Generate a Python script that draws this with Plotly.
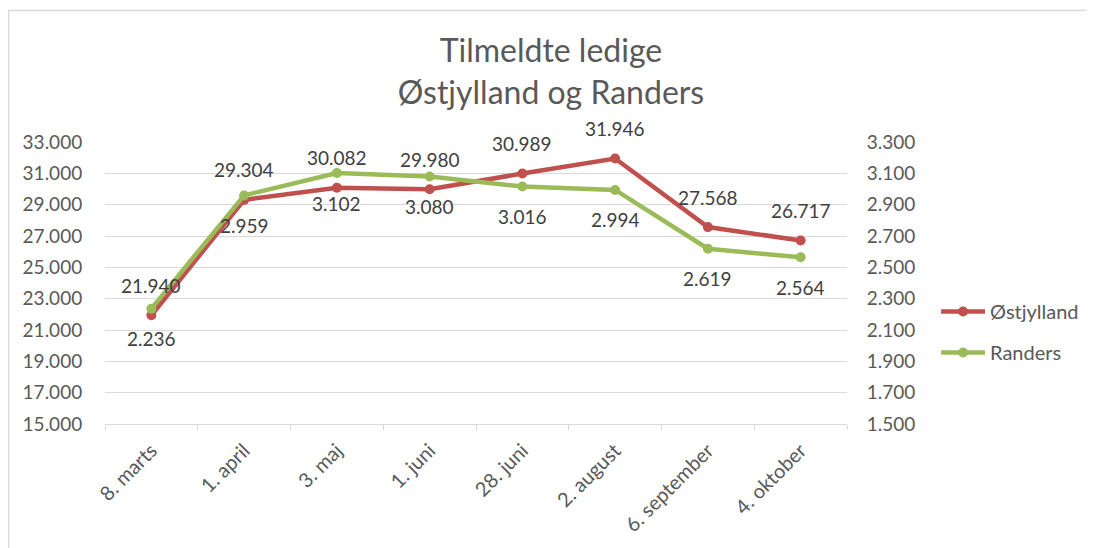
import plotly.graph_objects as go

categories = ["8. marts", "1. april", "3. maj", "1. juni", "28. juni", "2. august", "6. september", "4. oktober"]
ostjylland = [21940, 29304, 30082, 29980, 30989, 31946, 27568, 26717]
randers = [2236, 2959, 3102, 3080, 3016, 2994, 2619, 2564]
left_ticks = list(range(15000, 33001, 2000))
right_ticks = list(range(1500, 3301, 200))

def dk(v):
    return f"{v:,}".replace(",", ".")

RED = "#C0504D"
GREEN = "#9BBB59"
FONT = "Lato"
GRAY = "#595959"

fig = go.Figure()
fig.add_trace(go.Scatter(x=categories, y=ostjylland, name="Østjylland", mode="lines+markers",
                         line=dict(color=RED, width=4.5), marker=dict(color=RED, size=10),
                         yaxis="y", legendgroup="a"))
fig.add_trace(go.Scatter(x=categories, y=randers, name="Randers", mode="lines+markers",
                         line=dict(color=GREEN, width=4.5), marker=dict(color=GREEN, size=10),
                         yaxis="y2", legendgroup="b"))

ann = []
for c, v in zip(categories, ostjylland):
    ann.append(dict(x=c, y=v, xref="x", yref="y", text=dk(v), showarrow=False, yshift=30,
                    font=dict(family=FONT, size=19, color="#404040")))
for c, v in zip(categories, randers):
    ann.append(dict(x=c, y=v, xref="x", yref="y2", text=dk(v), showarrow=False, yshift=-30,
                    font=dict(family=FONT, size=19, color="#404040")))

fig.update_layout(
    width=1094, height=548,
    margin=dict(l=97, r=255, t=134, b=132, autoexpand=False),
    paper_bgcolor="white", plot_bgcolor="white",
    font=dict(family=FONT, color=GRAY),
    title=dict(text="Tilmeldte ledige<br>Østjylland og Randers", x=0.601, xref="paper", xanchor="center",
               y=1 - 54 / 548, yref="container", yanchor="top", font=dict(family=FONT, size=32, color=GRAY)),
    xaxis=dict(tickangle=-45, tickfont=dict(size=20, color=GRAY), showgrid=False,
               showline=True, linecolor="#D9D9D9", linewidth=1,
               ticks="outside", tickcolor="#D9D9D9", ticklen=5, tickson="boundaries",
               ticklabelstandoff=6,
               range=[-0.5, len(categories) - 0.5]),
    yaxis=dict(range=[15000, 33000], tickvals=left_ticks, ticktext=[dk(v) for v in left_ticks],
               tickfont=dict(size=19, color=GRAY), showgrid=True, gridcolor="#D9D9D9",
               zeroline=False, showline=False, ticks="outside", ticklen=18,
               tickcolor="rgba(0,0,0,0)"),
    yaxis2=dict(range=[1500, 3300], tickvals=right_ticks, ticktext=[dk(v) for v in right_ticks],
                overlaying="y", side="right", showgrid=False, zeroline=False,
                tickfont=dict(size=19, color=GRAY), ticks="outside", ticklen=15,
                tickcolor="rgba(0,0,0,0)"),
    legend=dict(x=1.12, y=0.326, xanchor="left", yanchor="middle", font=dict(size=20, color=GRAY),
                bgcolor="rgba(0,0,0,0)", tracegroupgap=12, itemwidth=44),
    annotations=ann,
    shapes=[dict(type="rect", xref="paper", yref="paper", x0=-0.1300, x1=1.40, y0=-0.6, y1=1.466,
                 line=dict(color="#D9D9D9", width=1.5), fillcolor="rgba(0,0,0,0)", layer="below")],
    showlegend=True,
)

fig.write_html("out.html")
